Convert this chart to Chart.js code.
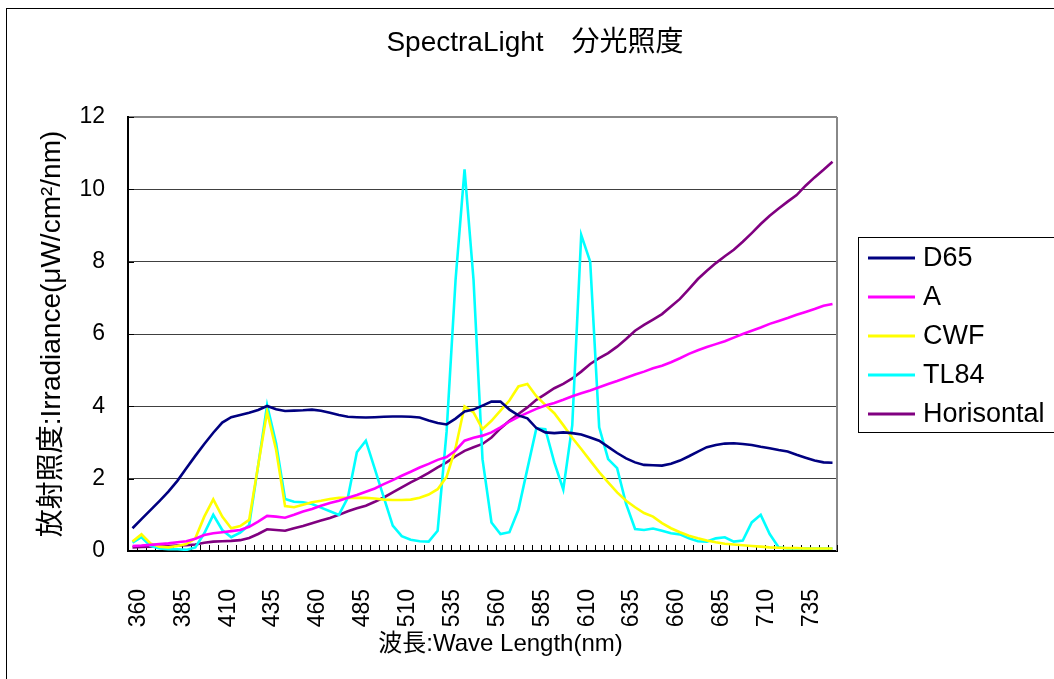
<!DOCTYPE html>
<html><head><meta charset="utf-8">
<script src="https://cdn.jsdelivr.net/npm/chart.js@4/dist/chart.umd.min.js"></script>
<style>html,body{margin:0;padding:0;background:#fff;overflow:hidden}</style>
</head><body>
<canvas id="c" width="1054" height="679"></canvas>
<script>
const wavelengths = [360,365,370,375,380,385,390,395,400,405,410,415,420,425,430,435,440,445,450,455,460,465,470,475,480,485,490,495,500,505,510,515,520,525,530,535,540,545,550,555,560,565,570,575,580,585,590,595,600,605,610,615,620,625,630,635,640,645,650,655,660,665,670,675,680,685,690,695,700,705,710,715,720,725,730,735,740,745,750];
const seriesNames = ["D65","A","CWF","TL84","Horisontal"];
const d65 = [0.63,0.88,1.13,1.38,1.64,1.94,2.29,2.63,2.96,3.27,
3.55,3.70,3.76,3.82,3.90,4.01,3.92,3.87,3.88,3.89,
3.91,3.88,3.82,3.76,3.71,3.70,3.69,3.70,3.71,3.72,
3.72,3.71,3.69,3.61,3.54,3.50,3.66,3.86,3.91,4.02,
4.13,4.13,3.91,3.75,3.67,3.40,3.28,3.26,3.28,3.26,
3.22,3.14,3.05,2.88,2.71,2.56,2.45,2.38,2.37,2.36,
2.41,2.50,2.62,2.75,2.87,2.93,2.97,2.98,2.96,2.93,
2.88,2.84,2.79,2.75,2.66,2.58,2.50,2.45,2.44];
const illA = [0.14,0.15,0.17,0.19,0.21,0.24,0.27,0.34,0.44,0.49,
0.52,0.55,0.58,0.67,0.81,0.97,0.95,0.92,1.00,1.09,
1.16,1.25,1.33,1.39,1.47,1.55,1.64,1.73,1.85,1.96,
2.08,2.19,2.31,2.41,2.52,2.60,2.78,3.05,3.13,3.19,
3.28,3.42,3.58,3.71,3.82,3.93,4.02,4.09,4.18,4.28,
4.36,4.44,4.53,4.62,4.70,4.79,4.88,4.96,5.05,5.12,
5.22,5.33,5.45,5.55,5.64,5.72,5.80,5.90,6.00,6.09,
6.18,6.28,6.36,6.44,6.53,6.61,6.69,6.78,6.83];
const cwf = [0.26,0.46,0.21,0.12,0.10,0.14,0.19,0.35,0.95,1.43,
0.95,0.63,0.69,0.86,2.36,3.85,2.80,1.24,1.21,1.28,
1.35,1.39,1.44,1.47,1.47,1.47,1.47,1.45,1.42,1.41,
1.41,1.42,1.47,1.56,1.71,2.05,2.85,4.00,3.83,3.37,
3.60,3.88,4.16,4.55,4.62,4.28,4.04,3.81,3.48,3.13,
2.82,2.50,2.18,1.90,1.62,1.39,1.21,1.05,0.95,0.77,
0.63,0.52,0.42,0.35,0.29,0.24,0.20,0.18,0.16,0.14,
0.12,0.10,0.09,0.08,0.08,0.07,0.07,0.07,0.07];
const tl84 = [0.23,0.38,0.14,0.07,0.05,0.05,0.03,0.10,0.49,1.00,
0.58,0.38,0.51,0.72,2.36,4.03,2.98,1.44,1.36,1.35,
1.30,1.20,1.10,1.00,1.48,2.73,3.05,2.27,1.48,0.70,
0.41,0.31,0.27,0.26,0.56,3.30,7.50,10.55,7.50,2.54,
0.79,0.47,0.52,1.14,2.27,3.39,3.37,2.45,1.70,3.47,
8.74,8.00,3.42,2.54,2.29,1.30,0.61,0.58,0.62,0.56,
0.49,0.46,0.35,0.27,0.26,0.35,0.38,0.26,0.29,0.79,
1.00,0.47,0.10,0.07,0.07,0.07,0.07,0.07,0.07];
const horisontal = [0.10,0.11,0.12,0.13,0.14,0.15,0.16,0.18,0.23,0.26,
0.27,0.28,0.30,0.36,0.47,0.60,0.58,0.56,0.63,0.69,
0.77,0.84,0.91,1.00,1.10,1.18,1.25,1.36,1.48,1.62,
1.76,1.90,2.02,2.16,2.31,2.45,2.62,2.77,2.87,2.96,
3.14,3.39,3.60,3.79,3.97,4.18,4.34,4.50,4.62,4.77,
4.96,5.17,5.33,5.47,5.65,5.86,6.09,6.25,6.40,6.55,
6.76,6.97,7.24,7.52,7.75,7.96,8.15,8.33,8.55,8.79,
9.04,9.27,9.47,9.66,9.84,10.10,10.33,10.54,10.76];
const seriesColors = ["#000080","#FF00FF","#FFFF00","#00FFFF","#800080"];
const titleText = "SpectraLight\u3000分光照度";
const xTitle = "波長:Wave Length(nm)";
const yTitle = "放射照度:Irradiance(μW/cm²/nm)";
const yTicks = {min:0, max:12, step:2};
const labelEvery = 5;

const FONT = "'Liberation Sans', Arial, 'Noto Sans CJK JP', sans-serif";
const seriesValues = [d65, illA, cwf, tl84, horisontal];

const framePlugin = {
  id:'frame',
  beforeDraw(chart){
    const c = chart.ctx;
    c.save();
    c.fillStyle='#fff'; c.fillRect(0,0,chart.width,chart.height);
    c.strokeStyle='#000'; c.lineWidth=1;
    c.strokeRect(6.5,8.5,chart.width+20,chart.height+20);
    c.restore();
  },
  beforeDatasetsDraw(chart){
    const c = chart.ctx, ca = chart.chartArea, xs = chart.scales.x, ys = chart.scales.y;
    c.save();
    c.strokeStyle='#888'; c.lineWidth=2;
    c.beginPath(); c.moveTo(ca.right, ca.top); c.lineTo(ca.right, ca.bottom); c.stroke();
    c.strokeStyle='#000'; c.lineWidth=1;
    const n = xs.ticks.length;
    const half = (xs.getPixelForTick(1)-xs.getPixelForTick(0))/2;
    const tl = 6;
    c.beginPath();
    for(let i=0;i<=n;i++){
      const px = i<n ? xs.getPixelForTick(i)-half : xs.getPixelForTick(n-1)+half;
      const x = Math.round(px)+0.5;
      c.moveTo(x, ca.bottom); c.lineTo(x, ca.bottom-tl);
    }
    for(const t of ys.ticks){
      const y = Math.round(ys.getPixelForValue(t.value))+0.5;
      c.moveTo(ca.left, y); c.lineTo(ca.left+tl, y);
    }
    c.stroke();
    c.restore();
  },
  afterDraw(chart){
    const c = chart.ctx, ca = chart.chartArea;
    c.save();
    // chart title
    c.fillStyle='#000'; c.textAlign='center'; c.textBaseline='middle';
    c.font = "28px " + FONT;
    c.fillText(titleText, 535, 43);
    // x axis title
    c.font = "24px " + FONT;
    c.fillText(xTitle, (ca.left+ca.right)/2 + 18, 644);
    // legend
    const left = ca.right + 21;
    const mid = (ca.top+ca.bottom)/2;
    const top = Math.round(mid - 97.5);
    c.strokeStyle='#000'; c.lineWidth=1;
    c.strokeRect(left+0.5, top+0.5, 400, 195);
    c.font = "27px " + FONT;
    c.textAlign='left';
    chart.data.datasets.forEach((ds,i)=>{
      const y = top + 21 + i*39;
      c.strokeStyle = ds.borderColor; c.lineWidth = 3;
      c.beginPath(); c.moveTo(left+10, y); c.lineTo(left+57, y); c.stroke();
      c.fillStyle='#000';
      c.fillText(ds.label, left+65, y+1);
    });
    c.restore();
  }
};

new Chart(document.getElementById('c'), {
  type:'line',
  data:{
    labels: wavelengths.map(String),
    datasets: seriesNames.map((name,i)=>({
      label:name, data:seriesValues[i], borderColor:seriesColors[i], backgroundColor:seriesColors[i],
      borderWidth:2.6, pointRadius:0, tension:0, fill:false
    }))
  },
  options:{
    responsive:false, animation:false, events:[],
    layout:{padding:{left:0,right:217,top:117,bottom:0}},
    plugins:{
      legend:{display:false},
      tooltip:{enabled:false},
      title:{display:false}
    },
    scales:{
      x:{
        type:'category', offset:true,
        grid:{display:false, drawTicks:false},
        border:{display:true, color:'#000', width:2},
        ticks:{autoSkip:false, maxRotation:90, minRotation:90, padding:38, labelOffset:6, color:'#000',
          font:{family:FONT, size:23},
          callback(v, idx){ return idx % labelEvery === 0 ? this.getLabelForValue(v) : ''; }},
        afterFit(s){ s.height = 128; }
      },
      y:{
        min:yTicks.min, max:yTicks.max,
        grid:{drawTicks:false,
          color:(ctx)=> ctx.tick && ctx.tick.value===yTicks.max ? '#888' : (ctx.tick && ctx.tick.value===0 ? 'rgba(0,0,0,0)' : '#404040'),
          lineWidth:(ctx)=> ctx.tick && ctx.tick.value===yTicks.max ? 2 : 1},
        border:{display:true, color:'#000', width:2},
        ticks:{stepSize:yTicks.step, padding:23, color:'#000', font:{family:FONT, size:23}},
        title:{display:true, text:yTitle, color:'#000', font:{family:FONT, size:28}, padding:{top:35,bottom:0}},
        afterFit(s){ s.width = 128; }
      }
    }
  },
  plugins:[framePlugin]
});
</script>
</body></html>
